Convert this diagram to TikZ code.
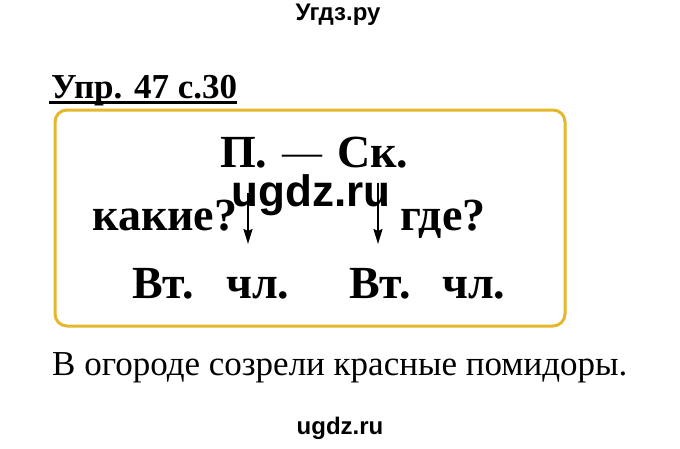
\documentclass[tikz,border=0pt]{standalone}
\usepackage{fontspec}
\setmainfont{Liberation Serif}
\newfontfamily\wmfont{Liberation Sans}
\usetikzlibrary{arrows.meta}
\definecolor{boxgold}{RGB}{228,184,42}
\begin{document}
\begin{tikzpicture}[x=1pt,y=-1pt,
    lbl/.style={anchor=base west,inner sep=0pt,font=\fontsize{46}{48}\selectfont\bfseries},
    wm/.style={anchor=base,inner sep=0pt,font=\wmfont\bfseries\fontsize{24}{26}\selectfont},
    arr/.style={-{Stealth[length=15pt,width=9pt,inset=2pt]},line width=2pt}]
    \useasboundingbox (0,0) rectangle (680,448);

    \node [wm] (T) at (338,20) {Угдз.ру};
    \node [anchor=base west,inner sep=0pt,font=\fontsize{35}{38}\selectfont\bfseries] (H) at (51,98) {Упр. 47 с.30};
    \draw [line width=2.4pt] (H.base west) ++(-2,4.5) -- (H.base east |- 0,102.5);

    \draw [boxgold,line width=3pt,rounded corners=12pt] (55,110) rectangle (565,326);

    \node [lbl] (P) at (220,167) {П.};
    \node [lbl,font=\fontsize{40}{44}\selectfont] (D) at (282,165) {—};
    \node [lbl] (S) at (337,167) {Ск.};

    \node [lbl] (Q1) at (92,230) {какие?};
    \node [lbl] (Q2) at (400,230) {где?};

    \node [lbl] (B1) at (132,298) {Вт.};
    \node [lbl] (C1) at (226,298) {чл.};
    \node [lbl] (B2) at (349,298) {Вт.};
    \node [lbl] (C2) at (442,298) {чл.};

    \coordinate (A1) at (248,193);
    \coordinate (E1) at (248,244);
    \coordinate (A2) at (378,183);
    \coordinate (E2) at (378,244);
    \path [arr] (A1) edge node {} (E1);
    \path [arr] (A2) edge node {} (E2);

    \node [wm,font=\wmfont\bfseries\fontsize{44}{46}\selectfont] (W) at (311,206) {ugdz.ru};

    \node [anchor=base west,inner sep=0pt,font=\fontsize{35}{38}\selectfont] (L) at (52,375) {В огороде созрели красные помидоры.};

    \node [wm] (U) at (340,434) {ugdz.ru};
\end{tikzpicture}
\end{document}
